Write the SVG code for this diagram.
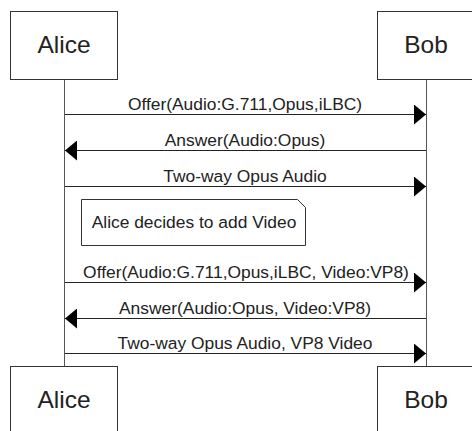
<svg xmlns="http://www.w3.org/2000/svg" width="472" height="431" viewBox="0 0 472 431">
<style>
  .box{fill:#fff;stroke:#333;stroke-width:1}
  .life{stroke:#555;stroke-width:1;fill:none}
  .msg{stroke:#222;stroke-width:1;fill:none;marker-end:url(#arr)}
  .name{font-family:"Liberation Sans",Arial,sans-serif;font-size:24.5px;fill:#222;text-anchor:middle}
  .lbl{font-family:"Liberation Sans",Arial,sans-serif;font-size:17.4px;fill:#222;text-anchor:middle}
  .note{fill:#fff;stroke:#333;stroke-width:1}
</style>
<defs>
  <marker id="arr" viewBox="0 0 12 20" refX="12" refY="10" markerWidth="12" markerHeight="20" markerUnits="userSpaceOnUse" orient="auto">
    <path d="M0,0 L12,10 L0,20 Z" fill="#000"/>
  </marker>
</defs>
<rect width="472" height="431" fill="#fff"/>
<g id="lifelines">
  <line class="life" x1="64.5" y1="79" x2="64.5" y2="367"/>
  <line class="life" x1="426.5" y1="79" x2="426.5" y2="367"/>
</g>
<g id="alice-top"><rect class="box" x="10.5" y="11.5" width="107" height="68"/><text class="name" x="64" y="53">Alice</text></g>
<g id="bob-top"><rect class="box" x="377.5" y="11.5" width="100" height="68"/><text class="name" x="426" y="53">Bob</text></g>
<g id="alice-bottom"><rect class="box" x="10.5" y="366.5" width="107" height="80"/><text class="name" x="64" y="408">Alice</text></g>
<g id="bob-bottom"><rect class="box" x="377.5" y="366.5" width="100" height="80"/><text class="name" x="426" y="408">Bob</text></g>
<g id="connectors">
  <line class="msg" x1="65" y1="114.5" x2="426" y2="114.5"/>
  <line class="msg" x1="426" y1="150.5" x2="65" y2="150.5"/>
  <line class="msg" x1="65" y1="186.5" x2="426" y2="186.5"/>
  <line class="msg" x1="65" y1="282.5" x2="426" y2="282.5"/>
  <line class="msg" x1="426" y1="318.5" x2="65" y2="318.5"/>
  <line class="msg" x1="65" y1="353.5" x2="426" y2="353.5"/>
</g>
<g id="labels">
  <text class="lbl" x="245" y="110">Offer(Audio:G.711,Opus,iLBC)</text>
  <text class="lbl" x="245" y="146">Answer(Audio:Opus)</text>
  <text class="lbl" x="245" y="182">Two-way Opus Audio</text>
  <text class="lbl" x="246" y="278">Offer(Audio:G.711,Opus,iLBC, Video:VP8)</text>
  <text class="lbl" x="245" y="314">Answer(Audio:Opus, Video:VP8)</text>
  <text class="lbl" x="245" y="349">Two-way Opus Audio, VP8 Video</text>
</g>
<g id="note">
  <path class="note" d="M81.5,199.5 H297.5 L305.5,207.5 V245.5 H81.5 Z"/>
  <text class="lbl" x="194" y="228">Alice decides to add Video</text>
</g>
</svg>
